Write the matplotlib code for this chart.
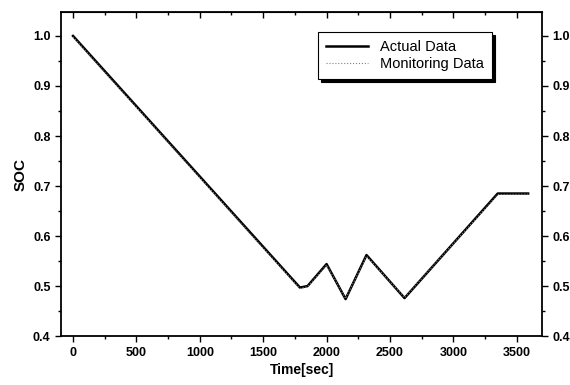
import numpy as np
import matplotlib.pyplot as plt
from matplotlib.ticker import MultipleLocator

plt.rcParams['font.family'] = ['Liberation Sans', 'DejaVu Sans']

# SOC profile
time_actual = [0, 1790, 1850, 2000, 2150, 2315, 2615, 3350, 3590]
soc_actual = [1.0, 0.497, 0.500, 0.544, 0.474, 0.562, 0.476, 0.685, 0.685]

time_monitor = [0, 1790, 1850, 2000, 2150, 2315, 2615, 3350, 3590]
soc_monitor = [0.998, 0.495, 0.499, 0.542, 0.475, 0.560, 0.477, 0.683, 0.684]

xticks = [0, 500, 1000, 1500, 2000, 2500, 3000, 3500]
yticks = [0.4, 0.5, 0.6, 0.7, 0.8, 0.9, 1.0]

fig = plt.figure(figsize=(5.7, 3.85), dpi=100)
ax = fig.add_axes([0.107, 0.127, 0.844, 0.842])

ax.plot(time_actual, soc_actual, c='black', lw=1.8, label='Actual Data')
ax.plot(time_monitor, soc_monitor, c='gray', lw=0.8, ls=':', label='Monitoring Data')

ax.set_xlim(-95, 3700)
ax.set_ylim(0.4, 1.048)
ax.set_xticks(xticks)
ax.set_yticks(yticks)
ax.set_yticklabels(['%.1f' % v for v in yticks])
ax.xaxis.set_minor_locator(MultipleLocator(250))
ax.yaxis.set_minor_locator(MultipleLocator(0.05))

for s in ax.spines.values():
    s.set_linewidth(1.3)

ax.tick_params(which='both', direction='out', top=False, right=True,
               labelright=True, labelsize=9, width=1.0)
ax.tick_params(which='major', length=4)
ax.tick_params(which='minor', length=2.5)

# top ticks point inward
sec = ax.secondary_xaxis('top')
sec.set_xticks(xticks)
sec.set_xticklabels([])
sec.xaxis.set_minor_locator(MultipleLocator(250))
sec.tick_params(which='both', direction='in', width=1.0)
sec.tick_params(which='major', length=4)
sec.tick_params(which='minor', length=2.5)

for lab in ax.get_xticklabels() + ax.get_yticklabels():
    lab.set_fontweight('bold')

ax.set_xlabel('Time[sec]', fontsize=10, fontweight='bold', labelpad=3)
ax.set_ylabel('SOC', fontsize=11, fontweight='bold', labelpad=4)

leg = ax.legend(loc='upper right', bbox_to_anchor=(0.896, 0.938),
                frameon=True, fancybox=False,
                shadow={'color': 'black', 'alpha': 1, 'ox': 2, 'oy': -2},
                edgecolor='black', fontsize=10.5, handlelength=2.9,
                borderpad=0.55, labelspacing=0.2, borderaxespad=0)
leg.get_frame().set_linewidth(0.8)

fig.savefig('out.png', dpi=100)
